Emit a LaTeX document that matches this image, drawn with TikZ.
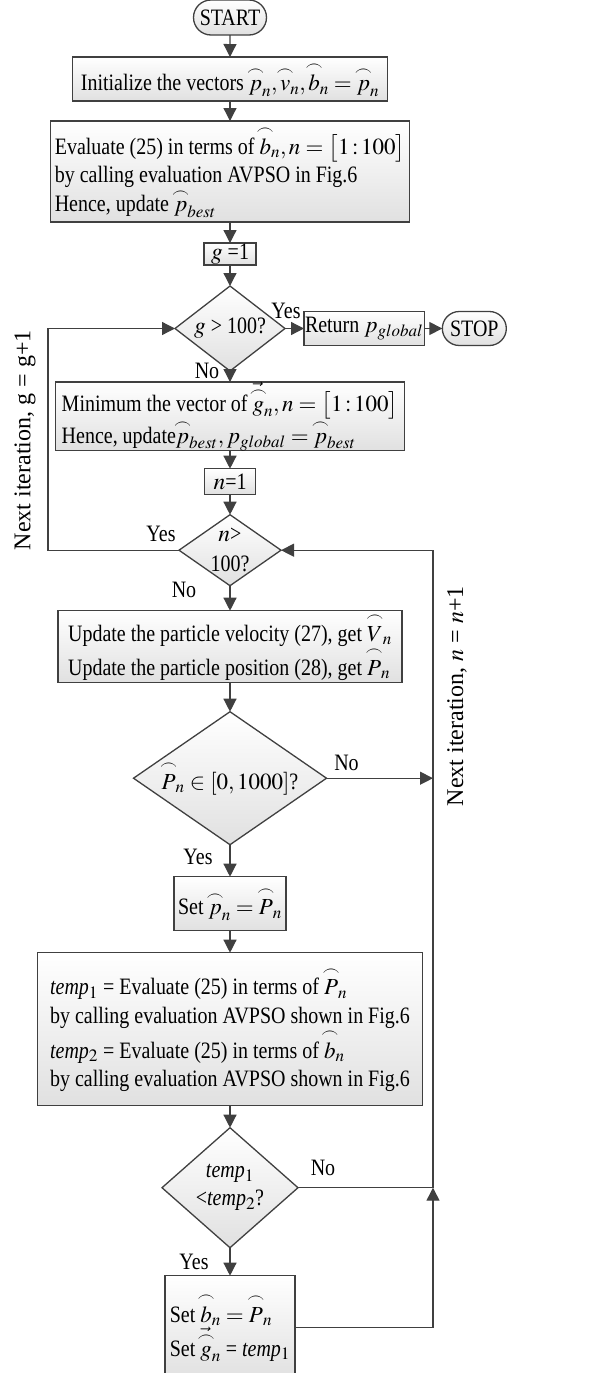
\documentclass[tikz,border=0pt]{standalone}
\usepackage{amsmath}
\usepackage{mathptmx}
\usepackage[no-math]{fontspec}
\setmainfont{Liberation Serif}[FakeStretch=0.85]
\newfontfamily\sidefont{Liberation Serif}
\usepackage{tikz}
\usetikzlibrary{arrows.meta,positioning,shapes.geometric,shapes.misc}

\definecolor{linegray}{HTML}{404040}
\newcommand{\parc}[1]{\overset{\makebox[0pt]{$\scriptstyle\frown$}}{#1}}
\newcommand{\mx}[1]{{\fontsize{23}{23}\selectfont$#1$}}

\tikzset{
  base/.style={draw=linegray, line width=1.3pt, outer sep=0pt, top color=white, bottom color=black!12, font=\fontsize{23.5}{28}\selectfont},
  proc/.style={base, rectangle, inner xsep=4pt, inner ysep=2pt},
  term/.style={base, rounded rectangle, inner sep=2pt},
  dec/.style={base, diamond, inner sep=0pt},
  lbl/.style={font=\fontsize{23.5}{28}\selectfont, inner sep=0pt},
  side/.style={font=\sidefont\fontsize{24}{28}\selectfont, inner sep=0pt},
  link/.style={draw=linegray, line width=1.3pt},
  arr/.style={link, -{Triangle[width=13pt,length=13pt]}},
}

\begin{document}
\begin{tikzpicture}[node distance=21pt]
\useasboundingbox (0,0) rectangle (608pt,-1373pt);

\node[term, minimum width=77pt, minimum height=35pt] (start) at (230pt,-17.5pt) {START};
\node[proc, below=22pt of start, minimum width=315pt, minimum height=44pt] (init) {Initialize the vectors \mx{\parc{p}_n,\parc{v}_n,\parc{b}_n=\parc{p}_n}};
\node[proc, below=20pt of init, minimum width=350pt, minimum height=101pt, align=left] (eval) {Evaluate (25) in terms of \mx{\parc{b}_n, n=\bigl[1\,{:}\,100\bigr]}\\ by calling evaluation AVPSO in Fig.6\\ Hence, update \mx{\parc{p}_{best}}};
\node[proc, below=21pt of eval, minimum width=52pt, minimum height=22pt, inner sep=0pt] (gset) {$g$ =1};
\node[dec, below=21pt of gset, minimum width=110pt, minimum height=85pt, aspect=1.3] (gtest) {$g$ > 100?};
\node[proc, right=19pt of gtest, minimum width=119pt, minimum height=34pt, inner xsep=1pt] (ret) {Return \mx{p_{global}}};
\node[term, right=18pt of ret, minimum width=68pt, minimum height=34pt] (stop) {STOP};
\node[proc, below=11pt of gtest, minimum width=349pt, minimum height=66pt, inner ysep=0pt, align=left, font=\fontsize{23.5}{26}\selectfont] (mini) {Minimum the vector of \mx{\vec{\parc{g}}_n, n=\bigl[1\,{:}\,100\bigr]}\\ Hence, update\mx{\parc{p}_{best}, p_{global}=\parc{p}_{best}}};
\node[proc, below=18pt of mini, minimum width=51pt, minimum height=26pt, inner sep=0pt] (nset) {$n$=1};
\node[dec, below=20pt of nset, minimum width=102pt, minimum height=71pt, inner sep=-12pt, align=center, font=\fontsize{23.5}{30}\selectfont] (ntest) {$n$>\\100?};
\node[proc, below=25pt of ntest, minimum width=344pt, minimum height=72pt, align=left, font=\fontsize{23.5}{34}\selectfont] (upd) {Update the particle velocity (27), get \mx{\parc{V}_n}\\ Update the particle position (28), get \mx{\parc{P}_n}};
\node[dec, below=29pt of upd, minimum width=193pt, minimum height=133pt, aspect=1.45] (ptest) {\mx{\parc{P}_n\in[0,1000]}?};
\node[proc, below=32pt of ptest, minimum width=106pt, minimum height=54pt] (pset) {Set \mx{\parc{p}_n=\parc{P}_n}};
\node[proc, below=22pt of pset, minimum width=385pt, minimum height=153pt, align=left, font=\fontsize{23.5}{28.5}\selectfont] (temp) {\textit{temp$_1$} = Evaluate (25) in terms of \mx{\parc{P}_n}\\ by calling evaluation AVPSO shown in Fig.6\\ \textit{temp$_2$} = Evaluate (25) in terms of \mx{\parc{b}_n}\\ by calling evaluation AVPSO shown in Fig.6};
\node[dec, below=22pt of temp, minimum width=136pt, minimum height=120pt, aspect=1.13, align=center] (ttest) {\textit{temp$_1$}\\<\textit{temp$_2$}?};
\node[proc, below=28pt of ttest, minimum width=130pt, minimum height=104pt, align=left] (best) {Set \mx{\parc{b}_n=\parc{P}_n}\\Set \mx{\vec{\parc{g}}_n} = \textit{temp$_1$}};

% loop corners
\coordinate[left=131pt of ntest.west] (lft);
\coordinate[right=152pt of ntest.east] (rgt);
\coordinate (jp) at (rgt |- ptest.east);
\coordinate (jt) at (rgt |- ttest.east);

\draw[arr] (start) -- (init);
\draw[arr] (init) -- (eval);
\draw[arr] (eval) -- (gset);
\draw[arr] (gset) -- (gtest);
\draw[arr] (gtest) -- (ret);
\draw[arr] (ret) -- (stop);
\draw[arr] (gtest) -- (mini);
\draw[arr] (mini) -- (nset);
\draw[arr] (nset) -- (ntest);
\draw[arr] (ntest.west) -- (lft) |- (gtest.west);
\draw[arr] (ntest) -- (upd);
\draw[arr] (upd) -- (ptest);
\draw[arr] (ptest) -- (jp);
\draw[arr] (ptest) -- (pset);
\draw[arr] (pset) -- (temp);
\draw[arr] (temp) -- (ttest);
\draw[link] (ttest) -- (jt);
\draw[arr] (ttest) -- (best);
\draw[arr] (best.east) -| (jt);
\draw[arr] (jt) |- (ntest.east);

% yes / no
\node[lbl, xshift=1pt, yshift=18pt] (yes1) at (gtest.east) {Yes};
\node[lbl, xshift=-23pt, yshift=0pt] (no1) at (gtest.south) {No};
\node[lbl, xshift=-18pt, yshift=16pt] (yes2) at (ntest.west) {Yes};
\node[lbl, xshift=-46pt, yshift=-4pt] (no2) at (ntest.south) {No};
\node[lbl, xshift=20pt, yshift=15pt] (no3) at (ptest.east) {No};
\node[lbl, xshift=-32pt, yshift=-12pt] (yes3) at (ptest.south) {Yes};
\node[lbl, xshift=25pt, yshift=20pt] (no4) at (ttest.east) {No};
\node[lbl, xshift=-36pt, yshift=-14pt] (yes4) at (ttest.south) {Yes};

\node[side, xshift=-23pt, yshift=110pt, rotate=90] (gnext) at (lft) {Next iteration, g = g+1};
\node[side, xshift=24pt, yshift=-146pt, rotate=90] (nnext) at (rgt) {Next iteration, $n$ = $n$+1};
\end{tikzpicture}
\end{document}
